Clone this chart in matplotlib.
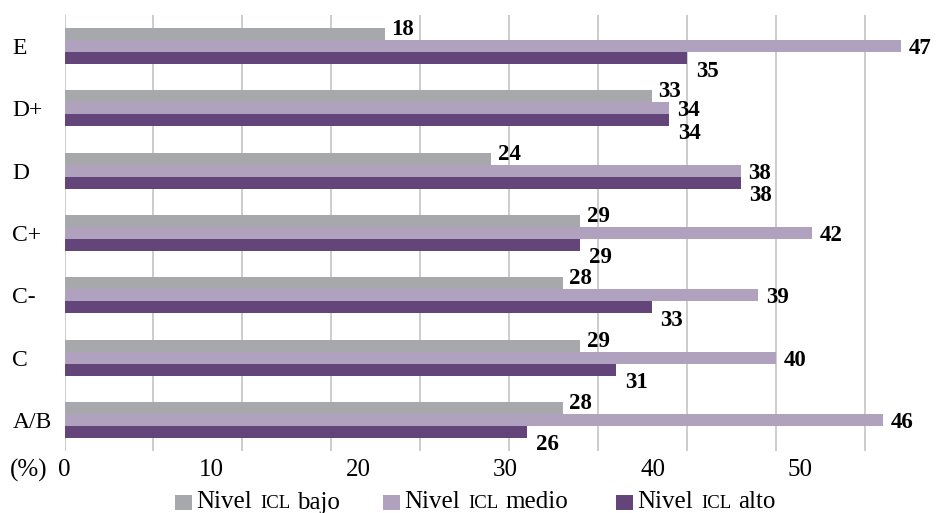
import numpy as np
import matplotlib.pyplot as plt
from matplotlib.patches import Rectangle

# Socioeconomic levels, bottom to top
categories = ["A/B", "C", "C-", "C+", "D", "D+", "E"]
nivel_bajo = [28, 29, 28, 29, 24, 33, 18]
nivel_medio = [46, 40, 39, 42, 38, 34, 47]
nivel_alto = [26, 31, 33, 29, 38, 34, 35]
series_labels = ["bajo", "medio", "alto"]
pct_ticks = [0, 10, 20, 30, 40, 50]

colors = ["#A7A8AC", "#B0A1BE", "#634579"]

plt.rcParams["font.family"] = ["Liberation Serif", "DejaVu Serif"]

W, H = 941, 513
fig = plt.figure(figsize=(W / 100, H / 100), dpi=100)
ax = fig.add_axes([64.5 / W, 62 / H, 1 - 64.5 / W, 436 / H])

y = np.arange(len(categories))
bh = 0.1925
# (bar offset, values, color, label offset in points)
layers = [
    (bh, nivel_bajo, colors[0], (4.5, 5.0)),
    (0.0, nivel_medio, colors[1], (5.8, 0.0)),
    (-bh, nivel_alto, colors[2], (6.5, -7.5)),
]
for off, vals, col, (dx, dy) in layers:
    bars = ax.barh(y + off, vals, height=bh, color=col, linewidth=0, zorder=2)
    for rect, v in zip(bars, vals):
        ax.annotate(f"{v}", xy=(rect.get_width(), rect.get_y() + rect.get_height() / 2),
                    xytext=(dx, dy), textcoords="offset points",
                    ha="left", va="center_baseline", fontsize=16.5,
                    fontweight="bold", color="black", annotation_clip=False)

ax.set_xlim(0, (W - 64.5) / 17.79)
ax.set_ylim(-0.5, 6.5)
ax.set_xticks(np.arange(0, 46, 5))
ax.xaxis.grid(True, color="#BFBFBF", linewidth=1.1)
ax.set_axisbelow(True)
ax.tick_params(axis="x", length=0, labelbottom=False)
ax.set_yticks(y, categories)
ax.tick_params(axis="y", length=0, pad=37.5, labelsize=17)
for lbl in ax.get_yticklabels():
    lbl.set_horizontalalignment("left")
for s in ax.spines.values():
    s.set_visible(False)

# percentage scale shown under the plot
sec = ax.secondary_xaxis("bottom", functions=(lambda x: x * 1.21, lambda x: x / 1.21))
sec.set_xticks(pct_ticks)
sec.tick_params(length=0, pad=6.0, labelsize=18)
sec.spines["bottom"].set_visible(False)
ax.annotate("(%)", xy=(0, 0), xycoords="axes fraction", xytext=(-39.2, -6.0),
            textcoords="offset points", ha="left", va="top", fontsize=18)

# legend with small-caps "ICL"
base_y = 4.5 / H
starts = [175, 383, 616]
for x0, col, name in zip(starts, colors, series_labels):
    fig.patches.append(Rectangle((x0 / W, 3 / H), 17 / W, 15 / H, color=col,
                                 transform=fig.transFigure, linewidth=0))
    t1 = fig.text((x0 + 21) / W, base_y, "Nivel", fontsize=18, va="baseline")
    t2 = ax.annotate("ICL", xy=(1, base_y), xycoords=(t1, "figure fraction"),
                     xytext=(6.0, 0), textcoords="offset points",
                     ha="left", va="baseline", fontsize=13.5, annotation_clip=False)
    ax.annotate(name, xy=(1, base_y), xycoords=(t2, "figure fraction"),
                xytext=(5.0, 0), textcoords="offset points",
                ha="left", va="baseline", fontsize=18, annotation_clip=False)

fig.savefig("out.png", dpi=100)
